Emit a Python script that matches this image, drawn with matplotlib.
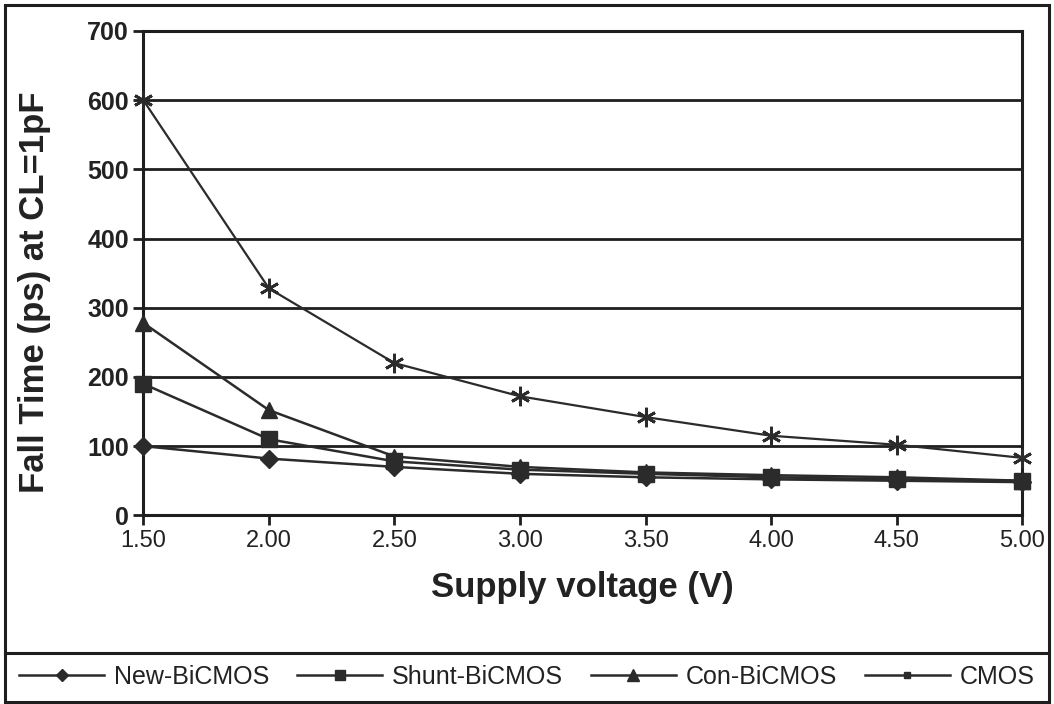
import matplotlib.pyplot as plt
from matplotlib.lines import Line2D
from matplotlib.patches import Rectangle

# Data
voltage = [1.5, 2.0, 2.5, 3.0, 3.5, 4.0, 4.5, 5.0]
new_bicmos = [100, 82, 70, 60, 55, 52, 50, 48]
shunt_bicmos = [190, 110, 78, 66, 60, 55, 52, 50]
con_bicmos = [278, 152, 85, 70, 62, 58, 55, 50]
cmos = [600, 328, 220, 172, 142, 115, 102, 83]

series_names = ['New-BiCMOS', 'Shunt-BiCMOS', 'Con-BiCMOS', 'CMOS']
x_ticks = [1.5, 2.0, 2.5, 3.0, 3.5, 4.0, 4.5, 5.0]
y_ticks = [0, 100, 200, 300, 400, 500, 600, 700]

plt.rcParams['font.family'] = ['Liberation Sans', 'DejaVu Sans']
ink = '#2b2b2b'

fig = plt.figure(figsize=(10.54, 7.04), dpi=100)
ax = fig.add_axes([0.136, 0.268, 0.834, 0.688])

ax.plot(voltage, new_bicmos, color=ink, lw=1.8, marker='D', ms=9, mec=ink, mfc=ink, zorder=3, clip_on=False)
ax.plot(voltage, shunt_bicmos, color=ink, lw=1.8, marker='s', ms=11, mec=ink, mfc=ink, zorder=3, clip_on=False)
ax.plot(voltage, con_bicmos, color=ink, lw=1.8, marker='^', ms=12, mec=ink, mfc=ink, zorder=3, clip_on=False)
ax.plot(voltage, cmos, color=ink, lw=1.6, marker=(6, 2, 0), ms=14, mew=2, mec=ink, zorder=3, clip_on=False)

ax.set_xlim(1.5, 5.0)
ax.set_ylim(0, 700)
ax.set_xticks(x_ticks)
ax.set_xticklabels([f'{v:.2f}' for v in x_ticks])
ax.set_yticks(y_ticks)
ax.grid(axis='y', color='#1e1e1e', lw=2)
ax.set_axisbelow(True)
for s in ax.spines.values():
    s.set_color('#1e1e1e')
    s.set_linewidth(2.2)
ax.tick_params(direction='out', length=7, width=2, color='#1e1e1e', labelcolor='#222222')
for lab in ax.get_xticklabels():
    lab.set_fontsize(17)
for lab in ax.get_yticklabels():
    lab.set_fontsize(18)
    lab.set_fontweight('bold')

ax.set_xlabel('Supply voltage (V)', fontsize=25, fontweight='bold', color='#222222', labelpad=14)
ax.set_ylabel('Fall Time (ps) at CL=1pF', fontsize=25, fontweight='bold', color='#222222', labelpad=10)
ax.yaxis.set_label_coords(-0.105, 0.46)

# outer frame and legend separator
fig.patches.append(Rectangle((0.005, 0.003), 0.99, 0.99, transform=fig.transFigure,
                             fill=False, ec='#1e1e1e', lw=2.2))
fig.add_artist(Line2D([0.005, 0.995], [0.072, 0.072], transform=fig.transFigure,
                      color='#1e1e1e', lw=2.2))

handles = [
    Line2D([], [], color=ink, lw=1.8, marker='D', ms=6, mfc=ink, mec=ink),
    Line2D([], [], color=ink, lw=1.8, marker='s', ms=7, mfc=ink, mec=ink),
    Line2D([], [], color=ink, lw=1.8, marker='^', ms=8, mfc=ink, mec=ink),
    Line2D([], [], color=ink, lw=1.8, marker='s', ms=5, mfc=ink, mec=ink),
]
fig.legend(handles, series_names, loc='center', bbox_to_anchor=(0.5, 0.038), ncol=4,
           frameon=False, fontsize=18, handlelength=3.4, handletextpad=0.4,
           columnspacing=1.1, labelcolor='#222222')

fig.savefig('out.png', dpi=100)
